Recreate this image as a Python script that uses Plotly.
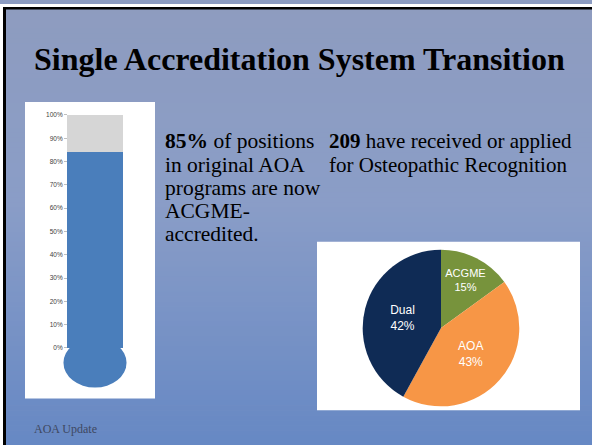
import plotly.graph_objects as go

W, H = 592, 445

# ---------------- data ----------------
gauge_tick_values = [0, 10, 20, 30, 40, 50, 60, 70, 80, 90, 100]
gauge_tick_labels = ["0%", "10%", "20%", "30%", "40%", "50%", "60%", "70%", "80%", "90%", "100%"]
gauge_filled = 84
gauge_total = 100

pie_labels = ["ACGME", "AOA", "Dual"]
pie_values = [15, 43, 42]
pie_colors = ["#77933C", "#F79646", "#0F2B55"]

title_text = "Single Accreditation System Transition"
left_lines = ["<b>85%</b> of positions", "in original AOA", "programs are now", "ACGME-", "accredited."]
right_lines = ["<b>209</b> have received or applied", "for Osteopathic Recognition"]
footer_text = "AOA Update"


def px(x):
    return x / W


def py(y):
    return 1 - y / H


def lerp_hex(c1, c2, t):
    a = [int(c1[i:i + 2], 16) for i in (1, 3, 5)]
    b = [int(c2[i:i + 2], 16) for i in (1, 3, 5)]
    return "#%02x%02x%02x" % tuple(round(a[k] + (b[k] - a[k]) * t) for k in range(3))


shapes = []
# background vertical gradient (decorative)
stops = [(0, "#8E9CBF"), (200, "#8A9DC7"), (445, "#6688C4")]
step = 5
for y0 in range(0, H, step):
    yc = y0 + step / 2
    for (ya, ca), (yb, cb) in zip(stops[:-1], stops[1:]):
        if ya <= yc <= yb:
            col = lerp_hex(ca, cb, (yc - ya) / (yb - ya))
            break
    shapes.append(dict(type="rect", xref="paper", yref="paper", layer="below",
                       x0=0, x1=1, y0=py(y0 + step + 0.5), y1=py(y0),
                       fillcolor=col, line=dict(width=0)))
# white outer margin and black frame lines
shapes += [
    dict(type="rect", xref="paper", yref="paper", layer="below", x0=0, x1=1, y0=py(3), y1=1,
         fillcolor="white", line=dict(width=0)),
    dict(type="rect", xref="paper", yref="paper", layer="below", x0=0, x1=px(3), y0=0, y1=1,
         fillcolor="white", line=dict(width=0)),
    dict(type="rect", xref="paper", yref="paper", layer="below", x0=px(3), x1=1, y0=py(5.5), y1=py(3),
         fillcolor="black", line=dict(width=0)),
    dict(type="rect", xref="paper", yref="paper", layer="below", x0=px(3), x1=px(6), y0=0, y1=py(3),
         fillcolor="black", line=dict(width=0)),
]
# white panels
shapes += [
    dict(type="rect", xref="paper", yref="paper", layer="below",
         x0=px(25), x1=px(155), y0=py(398), y1=py(99), fillcolor="white", line=dict(width=0)),
    dict(type="rect", xref="paper", yref="paper", layer="below",
         x0=px(317), x1=px(580), y0=py(410), y1=py(240), fillcolor="white", line=dict(width=0)),
]
# thermometer bulb (in axis units)
shapes.append(dict(type="circle", xref="x", yref="y", layer="below",
                   x0=-0.83, x1=0.83, y0=-17, y1=4.3,
                   fillcolor="#4A7EBB", line=dict(width=0)))

fig = go.Figure()

fig.add_trace(go.Bar(x=[0], y=[gauge_filled], width=1.474, marker=dict(color="#4A7EBB", line=dict(width=0)),
                     hoverinfo="skip", showlegend=False))
fig.add_trace(go.Bar(x=[0], y=[gauge_total - gauge_filled], width=1.474,
                     marker=dict(color="#D6D6D6", line=dict(width=0)),
                     hoverinfo="skip", showlegend=False))

fig.add_trace(go.Pie(
    labels=pie_labels, values=pie_values, sort=False, direction="clockwise", rotation=0,
    marker=dict(colors=pie_colors, line=dict(width=0)),
    textinfo="label+percent", textposition="inside", insidetextorientation="horizontal",
    textfont=dict(family="Liberation Sans, Arial", size=12, color="white"),
    domain=dict(x=[px(441 - 79), px(441 + 79)], y=[py(327 + 79), py(327 - 79)]),
    hoverinfo="skip", showlegend=False,
))

annotations = [
    dict(text="<b>" + title_text + "</b>", x=px(32), y=py(55), xref="paper", yref="paper",
         xanchor="left", yanchor="middle", showarrow=False,
         font=dict(family="Liberation Serif, Times New Roman, serif", size=32, color="#000000")),
    dict(text=footer_text, x=px(32), y=py(429), xref="paper", yref="paper",
         xanchor="left", yanchor="middle", showarrow=False,
         font=dict(family="Liberation Serif, serif", size=12, color="#3E4860")),
]
left_baselines = [147, 171, 194, 217, 241]
for line, b in zip(left_lines, left_baselines):
    annotations.append(dict(text=line, x=px(163), y=py(b - 8.5), xref="paper", yref="paper",
                            xanchor="left", yanchor="middle", showarrow=False,
                            font=dict(family="Liberation Serif, serif", size=21.5, color="#000000")))
right_baselines = [147, 171]
for line, b in zip(right_lines, right_baselines):
    annotations.append(dict(text=line, x=px(327), y=py(b - 8.5), xref="paper", yref="paper",
                            xanchor="left", yanchor="middle", showarrow=False,
                            font=dict(family="Liberation Serif, serif", size=21, color="#000000")))

fig.update_layout(
    width=W, height=H, margin=dict(l=0, r=0, t=0, b=0),
    paper_bgcolor="#8C9CC2", plot_bgcolor="rgba(0,0,0,0)",
    barmode="stack", showlegend=False,
    shapes=shapes, annotations=annotations,
    xaxis=dict(domain=[px(57), px(133)], range=[-1, 1], visible=False, fixedrange=True),
    yaxis=dict(domain=[py(395), py(112)], range=[-20.4, 100], anchor="free", position=px(67),
               tickvals=gauge_tick_values, ticktext=gauge_tick_labels,
               showline=False, fixedrange=True,
               ticks="outside", ticklen=3, tickcolor="#BFBFBF",
               showgrid=False, zeroline=False,
               tickfont=dict(family="Liberation Sans, Arial", size=6.5, color="#404040")),
)

fig.write_html("out.html", config={"displayModeBar": False},
               post_script="document.body.style.margin='0';document.body.style.overflow='hidden';")
